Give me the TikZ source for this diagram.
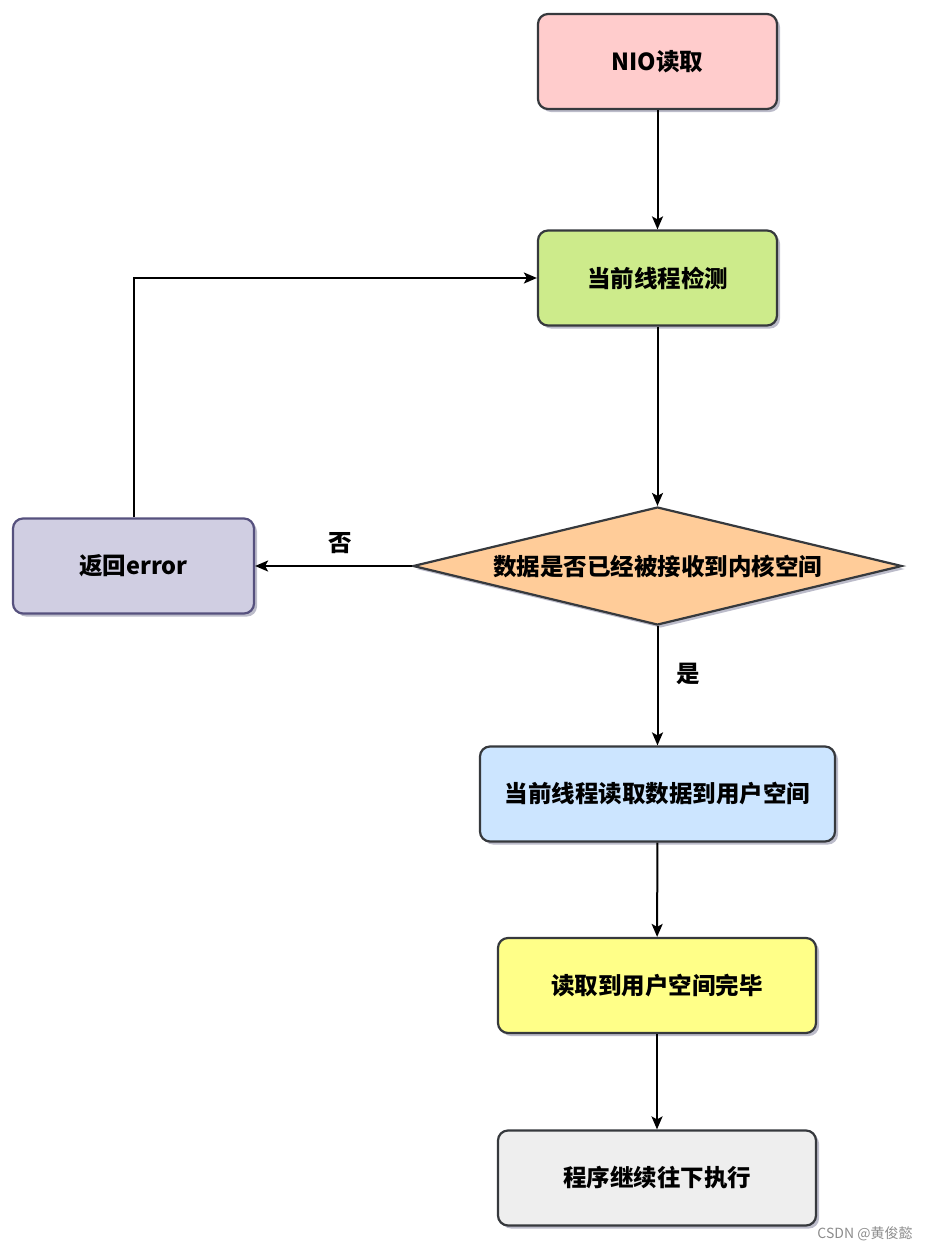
\documentclass[tikz,border=0pt]{standalone}
\usepackage{fontspec}
\newfontfamily\cjk{Noto Sans CJK SC}
\usetikzlibrary{shapes.geometric,shadows,arrows.meta}
\definecolor{bordc}{HTML}{36393D}
\definecolor{purpb}{HTML}{56517E}
\definecolor{cpink}{HTML}{FFCCCC}
\definecolor{cgreen}{HTML}{CDEB8B}
\definecolor{corange}{HTML}{FFCC99}
\definecolor{cpurp}{HTML}{D0CEE2}
\definecolor{cblue}{HTML}{CCE5FF}
\definecolor{cyell}{HTML}{FFFF88}
\definecolor{cgray}{HTML}{EEEEEE}
\definecolor{shad}{HTML}{6A6A8A}
\tikzset{
  box/.style={draw=bordc, line width=2.2pt, rounded corners=10pt, minimum width=239pt, minimum height=95pt,
    font=\cjk\bfseries\fontsize{23.5}{26}\selectfont, text=black,
    drop shadow={shadow xshift=3pt, shadow yshift=-3pt, fill=shad, opacity=0.45}},
  dec/.style={draw=bordc, line width=2.2pt, diamond, aspect=4.15, inner sep=0pt, minimum width=489pt, minimum height=118pt,
    font=\cjk\bfseries\fontsize{23.5}{26}\selectfont, text=black,
    drop shadow={shadow xshift=3pt, shadow yshift=-3pt, fill=shad, opacity=0.45}},
  conn/.style={line width=2pt, -{Stealth[length=13pt,width=11pt,inset=3pt]}},
  lbl/.style={font=\cjk\bfseries\fontsize{23.5}{26}\selectfont}
}
\begin{document}
\begin{tikzpicture}[x=1pt,y=-1pt]
\useasboundingbox (0,0) rectangle (930,1251);
\node[box, fill=cpink] (nio) at (657.5,61.5) {NIO读取};
\node[box, fill=cgreen] (chk) at (657.5,278) {当前线程检测};
\node[dec, fill=corange] (dec) at (657.5,566) {数据是否已经被接收到内核空间};
\node[box, draw=purpb, fill=cpurp, minimum width=241pt] (err) at (133.5,566) {返回error};
\node[box, fill=cblue, minimum width=355pt] (rd) at (657.5,794) {当前线程读取数据到用户空间};
\node[box, fill=cyell, minimum width=318pt] (done) at (657,985.5) {读取到用户空间完毕};
\node[box, fill=cgray, minimum width=318pt] (go) at (657,1178) {程序继续往下执行};
\draw[conn] (nio) -- (chk);
\draw[conn] (chk) -- (dec);
\draw[conn] (dec.west) -- (err.east);
\draw[conn] (dec) -- (rd);
\draw[conn] (rd) -- (done);
\draw[conn] (done) -- (go);
\draw[conn] (err.north) |- (chk.west);
\node[lbl] (no) at (340,543) {否};
\node[lbl] (yes) at (688,674) {是};
\node[font=\cjk\fontsize{14}{16}\selectfont, text=black!45] (wm) at (865,1234) {CSDN @黄俊懿};
\end{tikzpicture}
\end{document}
